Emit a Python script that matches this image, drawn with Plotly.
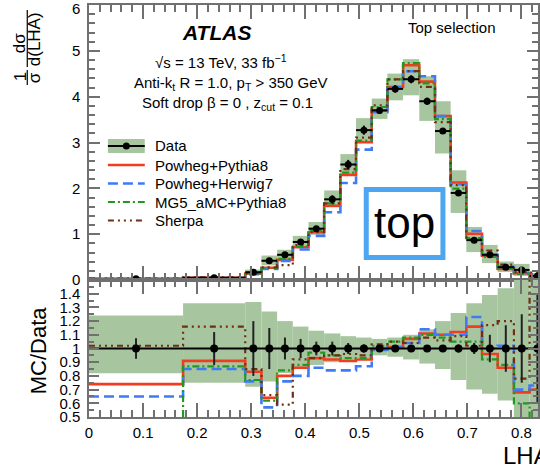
import plotly.graph_objects as go

# ---------------- data ----------------
edges = [0.0, 0.174, 0.289, 0.319, 0.348, 0.377, 0.406, 0.435, 0.465, 0.494,
         0.523, 0.552, 0.581, 0.611, 0.640, 0.669, 0.698, 0.727, 0.756, 0.786,
         0.815, 0.844]
data = [0.03, 0.05, 0.17, 0.42, 0.55, 0.83, 1.12, 1.76, 2.52, 3.27, 3.70,
        4.17, 4.38, 3.90, 3.25, 1.90, 0.87, 0.55, 0.28, 0.22, 0.09]
stat_rel = [0.075, 0.12, 0.20, 0.15, 0.08, 0.07, 0.05, 0.05, 0.04, 0.03, 0.02,
            0.02, 0.02, 0.02, 0.02, 0.03, 0.04, 0.10, 0.17, 0.25, 0.40]
syst_up = [1.24, 1.33, 1.34, 1.27, 1.20, 1.16, 1.13, 1.11, 1.09, 1.08, 1.07,
           1.08, 1.10, 1.14, 1.20, 1.26, 1.33, 1.39, 1.44, 1.60, 1.70]
syst_dn = [0.82, 0.75, 0.72, 0.76, 0.82, 0.86, 0.88, 0.90, 0.92, 0.93, 0.95,
           0.94, 0.92, 0.89, 0.85, 0.77, 0.70, 0.67, 0.62, 0.40, 0.30]
r_pp8 = [0.74, 0.91, 0.83, 0.64, 0.80, 0.86, 0.93, 0.92, 0.91, 0.92, 1.00,
         1.01, 1.07, 1.11, 1.10, 1.12, 1.16, 0.96, 0.86, 0.68, 0.70]
r_ph7 = [0.65, 0.85, 0.76, 0.57, 0.76, 0.80, 0.86, 0.84, 0.84, 0.87, 0.99,
         1.01, 1.04, 1.14, 1.10, 1.10, 1.23, 1.00, 1.02, 0.70, 0.73]
r_mg5 = [0.42, 0.87, 0.77, 0.62, 0.84, 0.88, 0.97, 0.95, 0.93, 0.93, 1.02,
         1.05, 1.08, 1.10, 1.08, 1.05, 1.05, 0.92, 0.88, 0.60, 0.45]
r_sherpa = [1.02, 1.16, 0.85, 0.66, 0.59, 0.92, 0.93, 0.95, 0.96, 0.95, 1.03,
            1.05, 1.04, 1.08, 1.06, 1.09, 1.02, 1.17, 1.20, 0.78, 1.80]

mc_names = ["Powheg+Pythia8", "Powheg+Herwig7", "MG5_aMC+Pythia8", "Sherpa"]
mc_ratios = [r_pp8, r_ph7, r_mg5, r_sherpa]
mc_colors = ["#f23c1f", "#3f7bf5", "#1f9a1f", "#6e2f12"]
mc_dash = ["solid", "10px,5px", "7px,3px,2px,3px", "6px,4px,2px,4px,2px,4px,2px,4px"]
mc_width = [2.6, 2.6, 2.2, 2.2]

x_ticks = [0, 0.1, 0.2, 0.3, 0.4, 0.5, 0.6, 0.7, 0.8]
x_ticktext = ["0", "0.1", "0.2", "0.3", "0.4", "0.5", "0.6", "0.7", "0.8"]
y_ticks = [0, 1, 2, 3, 4, 5, 6]
r_ticks = [0.5, 0.6, 0.7, 0.8, 0.9, 1.0, 1.1, 1.2, 1.3, 1.4]
r_ticktext = ["0.5", "0.6", "0.7", "0.8", "0.9", "1", "1.1", "1.2", "1.3", "1.4"]

# ---------------- derived ----------------
centers = [(a + b) / 2 for a, b in zip(edges[:-1], edges[1:])]
widths = [b - a for a, b in zip(edges[:-1], edges[1:])]
halfw = [w / 2 for w in widths]

BAND = "rgb(167,198,160)"
FRAME = "#707070"
FONT = "Liberation Sans, Arial, Helvetica, sans-serif"

fig = go.Figure()

# ---- top panel ----
fig.add_trace(go.Bar(x=centers, y=[d * (u - l) for d, u, l in zip(data, syst_up, syst_dn)],
                     base=[d * l for d, l in zip(data, syst_dn)], width=widths,
                     marker=dict(color=BAND, line=dict(width=0)),
                     xaxis="x", yaxis="y", hoverinfo="skip"))
for r, c, dsh, w in zip(mc_ratios, mc_colors, mc_dash, mc_width):
    vals = [d * q for d, q in zip(data, r)]
    fig.add_trace(go.Scatter(x=edges, y=vals + [vals[-1]], mode="lines",
                             line=dict(color=c, width=w, dash=dsh, shape="hv"),
                             xaxis="x", yaxis="y"))
fig.add_trace(go.Scatter(x=centers, y=data, mode="markers",
                         marker=dict(color="black", size=7),
                         error_x=dict(type="data", array=halfw, color="black", thickness=2, width=0),
                         error_y=dict(type="data", array=[d * s for d, s in zip(data, stat_rel)],
                                      color="black", thickness=2, width=0),
                         xaxis="x", yaxis="y"))

# ---- ratio panel ----
fig.add_trace(go.Bar(x=centers, y=[u - l for u, l in zip(syst_up, syst_dn)], base=syst_dn,
                     width=widths, marker=dict(color=BAND, line=dict(width=0)),
                     xaxis="x2", yaxis="y2", hoverinfo="skip"))
for r, c, dsh, w in zip(mc_ratios, mc_colors, mc_dash, mc_width):
    fig.add_trace(go.Scatter(x=edges, y=r + [r[-1]], mode="lines",
                             line=dict(color=c, width=w, dash=dsh, shape="hv"),
                             xaxis="x2", yaxis="y2"))
fig.add_trace(go.Scatter(x=[edges[0], edges[-1]], y=[1, 1], mode="lines",
                         line=dict(color="black", width=2), xaxis="x2", yaxis="y2"))
fig.add_trace(go.Scatter(x=centers, y=[1] * len(centers), mode="markers",
                         marker=dict(color="black", size=8),
                         error_y=dict(type="data", array=stat_rel, color="#222", thickness=2, width=0),
                         xaxis="x2", yaxis="y2"))

# ---------------- layout ----------------
L, R, T, B = 89, 0, 5, 52
W, H = 540, 469
pw, ph = W - L - R, H - T - B
split = (417 - 280) / ph


def PX(px):
    return (px - L) / pw


def PY(py):
    return (H - B - py) / ph


xr = [0, (W - L) / 543.0]
axis_common = dict(showgrid=False, zeroline=False, showline=True, linecolor=FRAME,
                   linewidth=1.5, mirror="ticks", ticks="inside", tickcolor=FRAME,
                   tickwidth=1.5, tickfont=dict(family=FONT, size=15, color="black"))

fig.update_layout(
    width=W, height=H, margin=dict(l=L, r=R, t=T, b=B, pad=0),
    paper_bgcolor="white", plot_bgcolor="white", showlegend=False,
    barmode="overlay", font=dict(family=FONT, size=15, color="black"),
    xaxis=dict(domain=[0, 1], anchor="y", range=xr, matches="x2", tickvals=x_ticks,
               showticklabels=False, ticklen=14,
               minor=dict(tickmode="linear", tick0=0, dtick=0.02, ticklen=7, ticks="inside",
                          tickcolor=FRAME, tickwidth=1.5), **axis_common),
    xaxis2=dict(domain=[0, 1], anchor="y2", range=xr, tickvals=x_ticks, ticktext=x_ticktext,
                ticklen=14, ticklabelstandoff=1,
                minor=dict(tickmode="linear", tick0=0, dtick=0.02, ticklen=7, ticks="inside",
                           tickcolor=FRAME, tickwidth=1.5), **axis_common),
    yaxis=dict(domain=[split, 1], anchor="x", range=[0, 6], tickvals=y_ticks, ticklen=11,
               ticklabelstandoff=4,
               minor=dict(tickmode="linear", tick0=0, dtick=0.2, ticklen=6, ticks="inside",
                          tickcolor=FRAME, tickwidth=1.5), **axis_common),
    yaxis2=dict(domain=[0, split], anchor="x2", range=[0.5, 1.5], tickvals=r_ticks,
                ticktext=r_ticktext, ticklen=10, ticklabelstandoff=4,
                minor=dict(tickmode="linear", tick0=0.5, dtick=0.05, ticklen=5, ticks="inside",
                           tickcolor=FRAME, tickwidth=1.5), **axis_common),
)

ann = []


def text(px, py, s, size=15, xanchor="center", angle=0, bold=False, italic=False):
    if bold:
        s = "<b>" + s + "</b>"
    if italic:
        s = "<i>" + s + "</i>"
    ann.append(dict(x=PX(px), y=PY(py), xref="paper", yref="paper", text=s, showarrow=False,
                    xanchor=xanchor, yanchor="middle", textangle=angle,
                    font=dict(family=FONT, size=size, color="black")))


# top tick label "6" sits at the very top edge; place it explicitly so it is not dropped
text(82, 9, str(y_ticks[-1]), size=15, xanchor="right")

text(217, 33, "ATLAS", size=21, bold=True, italic=True)
text(222, 61, "√s = 13 TeV, 33 fb<sup>−1</sup>", size=15)
text(232, 83, "Anti-k<sub>t</sub> R = 1.0, p<sub>T</sub> > 350 GeV", size=15)
text(228, 103, "Soft drop β = 0 , z<sub>cut</sub> = 0.1", size=15)
text(454, 28, "Top selection", size=15)

# legend
leg_y = [146, 165, 183.5, 202, 220.5]
labels = ["Data"] + mc_names
for yy, lab in zip(leg_y, labels):
    text(153, yy, lab, size=15, xanchor="left")

shapes = []
lx0, lx1 = 108, 145
shapes.append(dict(type="rect", xref="paper", yref="paper", x0=PX(lx0), x1=PX(lx1),
                   y0=PY(leg_y[0] - 7), y1=PY(leg_y[0] + 7), fillcolor=BAND, line=dict(width=0)))
shapes.append(dict(type="line", xref="paper", yref="paper", x0=PX(lx0), x1=PX(lx1),
                   y0=PY(leg_y[0]), y1=PY(leg_y[0]), line=dict(color="black", width=2)))
shapes.append(dict(type="circle", xref="paper", yref="paper", x0=PX(123), x1=PX(130),
                   y0=PY(leg_y[0] - 3.5), y1=PY(leg_y[0] + 3.5), fillcolor="black",
                   line=dict(width=0)))
for yy, c, dsh, w in zip(leg_y[1:], mc_colors, mc_dash, mc_width):
    shapes.append(dict(type="line", xref="paper", yref="paper", x0=PX(lx0), x1=PX(lx1),
                       y0=PY(yy), y1=PY(yy), line=dict(color=c, width=w, dash=dsh)))

# y title fraction (rotated)
text(20, 77, "1", size=17, angle=-90)
text(34, 78, "σ", size=17, angle=-90)
text(20, 43, "dσ", size=17, angle=-90)
text(35, 39, "d(LHA)", size=17, angle=-90)
shapes.append(dict(type="line", xref="paper", yref="paper", x0=PX(27), x1=PX(27),
                   y0=PY(70), y1=PY(85), line=dict(color="black", width=1.2)))
shapes.append(dict(type="line", xref="paper", yref="paper", x0=PX(27), x1=PX(27),
                   y0=PY(10), y1=PY(67), line=dict(color="black", width=1.2)))

text(38, 350, "MC/Data", size=22, angle=-90)
text(503, 455, "LHA", size=24, xanchor="left")

# "top" tag box
shapes.append(dict(type="rect", xref="paper", yref="paper", x0=PX(367.5), x1=PX(444.5),
                   y0=PY(257.5), y1=PY(189.5), fillcolor="white",
                   line=dict(color="#4ea6f0", width=5), layer="above"))
text(406, 222, "top", size=44)

fig.update_layout(annotations=ann, shapes=shapes)
fig.write_html("out.html")
